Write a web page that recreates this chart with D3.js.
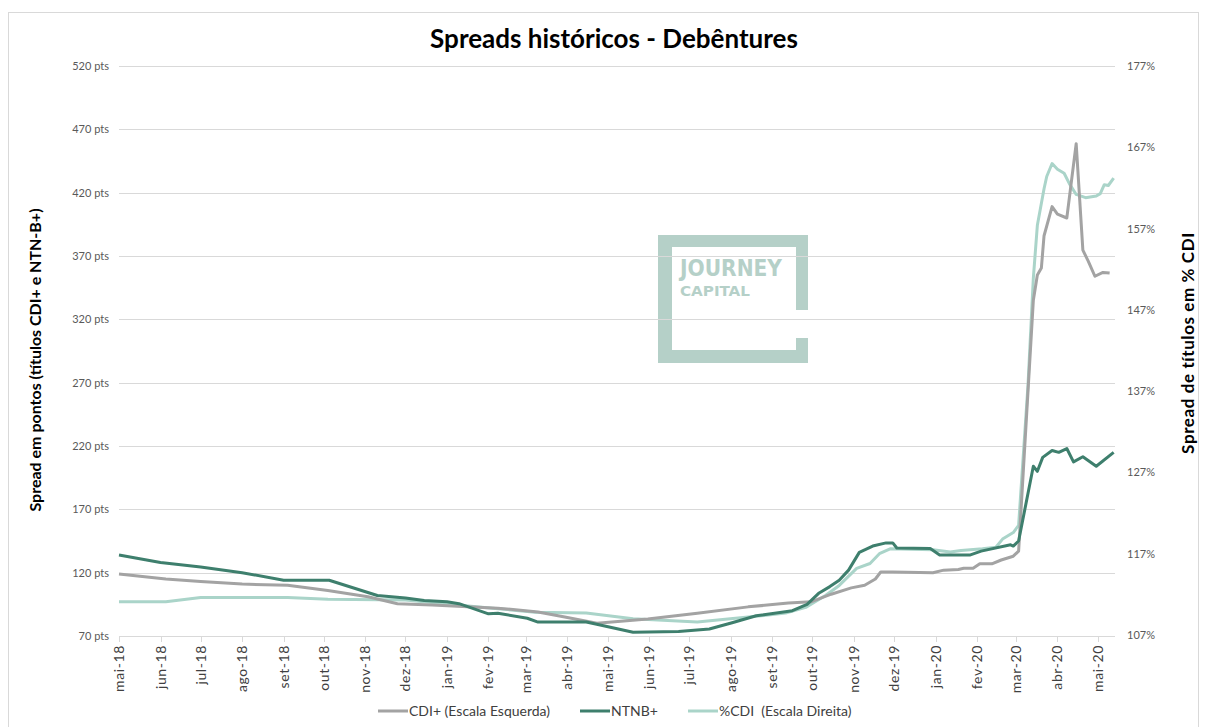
<!DOCTYPE html>
<html><head><meta charset="utf-8">
<script src="https://cdn.jsdelivr.net/npm/d3@7"></script>
<style>
body{margin:0;background:#fff;}
svg text{font-family:Lato,"Open Sans",sans-serif;}
</style></head><body>
<svg id="chart" width="1206" height="727"></svg>
<script>
// ---- data ----
const monthNames = ["jan","fev","mar","abr","mai","jun","jul","ago","set","out","nov","dez"];
const leftTicks = [70,120,170,220,270,320,370,420,470,520];
const rightTicks = [107,117,127,137,147,157,167,177];

const cdiDates = ["2018-05-01","2018-06-05","2018-07-01","2018-08-01","2018-09-04","2018-10-04","2018-11-03","2018-11-25","2018-12-21","2019-02-08","2019-03-10","2019-03-30","2019-04-23","2019-05-31","2019-07-07","2019-08-14","2019-09-13","2019-09-30","2019-10-15","2019-10-30","2019-11-09","2019-11-17","2019-11-21","2019-11-30","2019-12-30","2020-01-07","2020-01-18","2020-01-22","2020-01-29","2020-02-03","2020-02-12","2020-02-19","2020-02-28","2020-03-03","2020-03-14","2020-03-17","2020-03-20","2020-03-22","2020-03-28","2020-04-01","2020-04-08","2020-04-15","2020-04-20","2020-04-24","2020-04-29","2020-05-05","2020-05-10"];
const cdiValues = [119,115,113,111,110,106,101,95.5,94.5,92,89,85,80,83.4,88,93,96,97,103,108,110,115,120.5,120.5,120,122,122.5,123.5,123.5,127,127,130,133,137,335,355,360.5,386,409,403,400,458.7,374.6,366,354,357,356.5];

const ntnbDates = ["2018-05-01","2018-06-01","2018-07-01","2018-08-01","2018-09-01","2018-10-05","2018-11-10","2018-12-01","2018-12-15","2019-01-01","2019-01-10","2019-02-01","2019-02-08","2019-03-02","2019-03-10","2019-04-15","2019-04-22","2019-05-20","2019-06-23","2019-07-16","2019-08-02","2019-08-20","2019-09-16","2019-09-27","2019-10-06","2019-10-14","2019-10-21","2019-10-28","2019-11-05","2019-11-15","2019-11-25","2019-11-30","2019-12-03","2019-12-28","2020-01-04","2020-01-27","2020-02-04","2020-02-26","2020-02-28","2020-03-03","2020-03-14","2020-03-17","2020-03-21","2020-03-28","2020-04-02","2020-04-08","2020-04-13","2020-04-20","2020-04-30","2020-05-13"];
const ntnbValues = [134,128,124.5,120,114,114,102,100,98,97,95.5,87.5,88,84,81,81,79.5,73,73.5,75.5,80.5,86,90,95,104,109,114,122,136,141,143.5,143.5,139.5,139,134,134,137,142,141,145,204,200,211,216.5,215,218,207.5,211.5,204,215];

const pctDates = ["2018-05-01","2018-06-05","2018-07-01","2018-09-04","2018-10-04","2018-12-01","2019-01-01","2019-02-04","2019-03-08","2019-04-15","2019-05-20","2019-07-07","2019-08-14","2019-09-11","2019-09-26","2019-10-11","2019-10-21","2019-11-03","2019-11-13","2019-11-20","2019-11-28","2019-12-30","2020-01-12","2020-01-20","2020-02-05","2020-02-15","2020-02-20","2020-02-28","2020-03-03","2020-03-10","2020-03-14","2020-03-17","2020-03-22","2020-03-24","2020-03-28","2020-04-01","2020-04-06","2020-04-10","2020-04-15","2020-04-22","2020-04-30","2020-05-03","2020-05-06","2020-05-09","2020-05-13"];
const pctValues = [111.1,111.1,111.6,111.6,111.4,111.3,110.8,110.3,109.8,109.7,109,108.6,109.2,109.7,110.4,111.9,113.1,115.2,115.8,117,117.6,117.5,117.2,117.4,117.6,117.8,118.8,119.6,120.5,137.7,150.9,157.4,161.9,163.4,165,164.3,163.8,162.5,161.2,160.8,161,161.3,162.4,162.3,163.2];

const seriesNames = ["CDI+ (Escala Esquerda)","NTNB+","%CDI  (Escala Direita)"];
const seriesColors = ["#a3a3a3","#3e7f6d","#aad4c9"];

// ---- chart ----
const parse = d3.utcParse("%Y-%m-%d");
const svg = d3.select("#chart");
const L = 119, R = 1115, T = 66, B = 636;

const x = d3.scaleUtc().domain([parse("2018-05-01"), parse("2020-05-14")]).range([L, R]);
const yL = d3.scaleLinear().domain([70, 520]).range([B, T]);
const yR = d3.scaleLinear().domain([107, 177]).range([B - 1, T]);

svg.append("rect").attr("x",8.5).attr("y",12.5).attr("width",1190).attr("height",725)
  .attr("fill","#fff").attr("stroke","#d9d9d9");

// watermark logo
const wm = svg.append("g").attr("fill","#b5d0c8");
wm.append("rect").attr("x",658).attr("y",235).attr("width",150).attr("height",12);
wm.append("rect").attr("x",658).attr("y",235).attr("width",14).attr("height",128);
wm.append("rect").attr("x",658).attr("y",350).attr("width",150).attr("height",13);
wm.append("rect").attr("x",796).attr("y",235).attr("width",12).attr("height",75);
wm.append("rect").attr("x",796).attr("y",338).attr("width",12).attr("height",25);
wm.append("text").attr("x",680).attr("y",276).attr("font-size",23).attr("font-weight","bold")
  .attr("textLength",102).attr("lengthAdjust","spacingAndGlyphs").style("font-family","'DejaVu Sans Condensed','DejaVu Sans',sans-serif").text("JOURNEY");
wm.append("text").attr("x",680).attr("y",296).attr("font-size",14).attr("font-weight","bold")
  .attr("textLength",70).attr("lengthAdjust","spacingAndGlyphs").style("font-family","'DejaVu Sans Condensed','DejaVu Sans',sans-serif").text("CAPITAL");

// gridlines
svg.append("g").selectAll("line").data(leftTicks).join("line")
  .attr("x1",L).attr("x2",R).attr("y1",d=>Math.round(yL(d))+0.5).attr("y2",d=>Math.round(yL(d))+0.5)
  .attr("stroke","#d9d9d9").attr("stroke-width",1);

// left axis labels
svg.append("g").selectAll("text").data(leftTicks).join("text")
  .attr("x",109).attr("y",d=>yL(d)+4).attr("text-anchor","end")
  .attr("font-size",11).attr("fill","#595959").text(d=>d+" pts");

// right axis labels
svg.append("g").selectAll("text").data(rightTicks).join("text")
  .attr("x",1127).attr("y",d=>yR(d)+4).attr("text-anchor","start")
  .attr("font-size",11).attr("fill","#595959").text(d=>d+"%");

// x axis
const months = d3.utcMonth.range(parse("2018-05-01"), parse("2020-05-14"));
const xa = svg.append("g");
xa.selectAll("line").data(months).join("line")
  .attr("x1",d=>Math.round(x(d))+0.5).attr("x2",d=>Math.round(x(d))+0.5)
  .attr("y1",B).attr("y2",B+6).attr("stroke","#d9d9d9");
xa.selectAll("text").data(months).join("text")
  .attr("transform",d=>`translate(${x(d)+5},${B+9}) rotate(-90)`)
  .attr("text-anchor","end").attr("font-size",14).attr("fill","#404040")
  .attr("letter-spacing",0.6)
  .text(d=>monthNames[d.getUTCMonth()]+"-"+String(d.getUTCFullYear()).slice(2));

// lines
function mk(dates, values, yScale){
  return dates.map((d,i)=>[x(parse(d)), yScale(values[i])]);
}
const line = d3.line();
const series = [
  {pts: mk(cdiDates, cdiValues, yL), color: seriesColors[0]},
  {pts: mk(ntnbDates, ntnbValues, yL), color: seriesColors[1]},
  {pts: mk(pctDates, pctValues, yR), color: seriesColors[2]}
];
// draw order: %CDI, CDI+, NTNB+
[series[2], series[0], series[1]].forEach(s=>{
  svg.append("path").attr("d", line(s.pts)).attr("fill","none")
    .attr("stroke", s.color).attr("stroke-width",3).attr("stroke-linejoin","round");
});

// title
svg.append("text").attr("x",614).attr("y",48).attr("text-anchor","middle")
  .attr("font-size",26).attr("font-weight","bold").attr("fill","#000")
  .text("Spreads históricos - Debêntures");

// axis titles
svg.append("text").attr("transform","translate(41,360) rotate(-90)").attr("text-anchor","middle")
  .attr("font-size",16).attr("font-weight","bold").attr("fill","#000")
  .text("Spread em pontos (títulos CDI+ e NTN-B+)");
svg.append("text").attr("transform","translate(1194,343) rotate(-90)").attr("text-anchor","middle")
  .attr("font-size",17).attr("font-weight","bold").attr("fill","#000").attr("letter-spacing",0.6)
  .text("Spread de títulos em % CDI");

// legend
const legX = [378, 580, 688];
const lg = svg.append("g");
seriesNames.forEach((n,i)=>{
  lg.append("line").attr("x1",legX[i]).attr("x2",legX[i]+30).attr("y1",711).attr("y2",711)
    .attr("stroke",seriesColors[i]).attr("stroke-width",3);
  lg.append("text").attr("x",legX[i]+31).attr("y",716).attr("font-size",14).attr("fill","#404040")
    .attr("xml:space","preserve").style("white-space","pre").text(n);
});
</script>
</body></html>
